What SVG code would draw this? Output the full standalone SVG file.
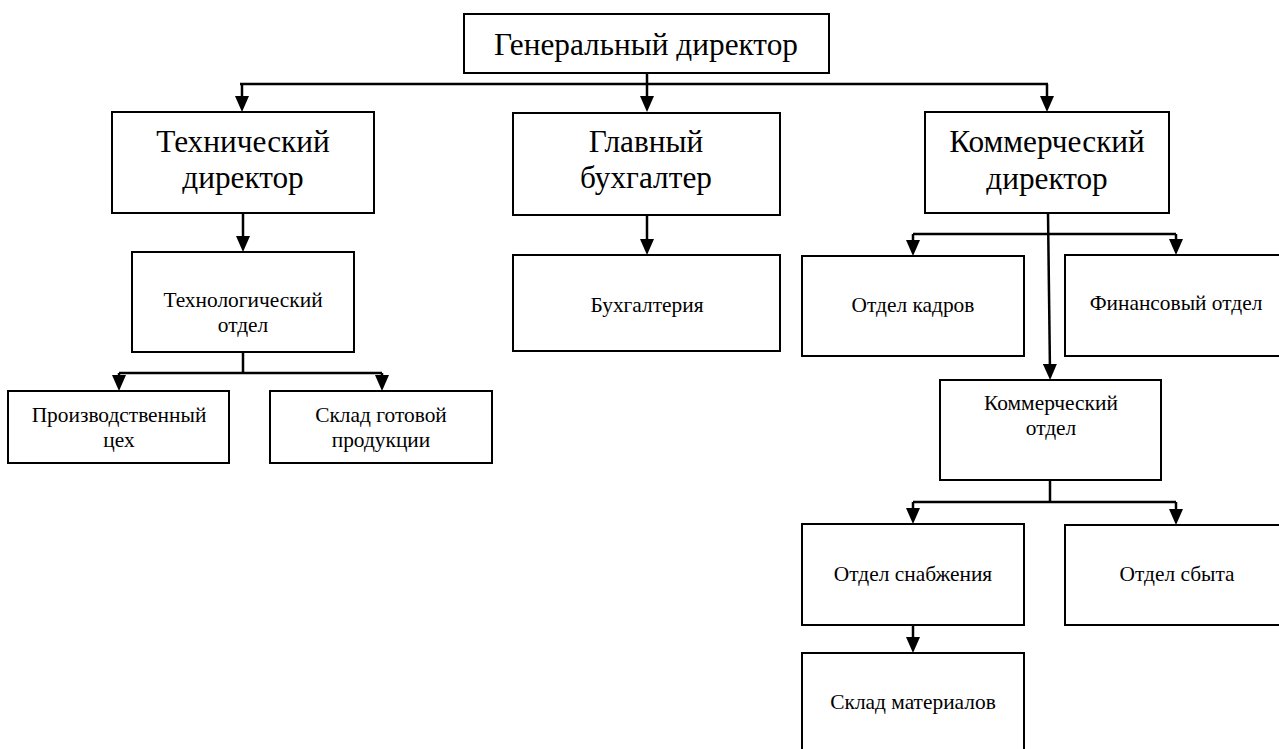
<svg xmlns="http://www.w3.org/2000/svg" width="1279" height="749" viewBox="0 0 1279 749">
  <style>
    .box { fill: #ffffff; stroke: #000000; stroke-width: 2; }
    .big { font-family: "Liberation Serif", "Times New Roman", serif; font-size: 31.3px; fill: #000000; text-anchor: middle; }
    .small { font-family: "Liberation Serif", "Times New Roman", serif; font-size: 21.4px; fill: #000000; text-anchor: middle; }
    .link { fill: none; stroke: #000000; stroke-width: 2.5; }
    .arrow { fill: none; stroke: #000000; stroke-width: 2.5; marker-end: url(#head); }
  </style>
  <defs>
    <marker id="head" markerUnits="userSpaceOnUse" viewBox="0 0 16 14" refX="8" refY="7" markerWidth="16" markerHeight="14" orient="auto">
      <path d="M0,0 L16,7 L0,14 Z" fill="#000000"/>
    </marker>
  </defs>
  <rect width="1279" height="749" fill="#ffffff"/>

  <!-- connectors -->
  <g id="connectors">
    <!-- general director to the three directors -->
    <path class="link" d="M240,84 H1048"/>
    <path class="arrow" d="M242,84 V104"/>
    <path class="arrow" d="M647,73 V104"/>
    <path class="arrow" d="M1047,84 V104"/>
    <!-- technical branch -->
    <path class="arrow" d="M243,213 V244"/>
    <path class="link" d="M243,352 V373"/>
    <path class="link" d="M119,373 H382"/>
    <path class="arrow" d="M119,373 V383"/>
    <path class="arrow" d="M382,373 V383"/>
    <!-- accounting -->
    <path class="arrow" d="M647,215 V247"/>
    <!-- commercial branch -->
    <path class="link" d="M913,234 H1176"/>
    <path class="arrow" d="M913,234 V248"/>
    <path class="arrow" d="M1176,234 V247"/>
    <path class="arrow" d="M1048,213 L1050,372"/>
    <path class="link" d="M1050,480 V502"/>
    <path class="link" d="M913,502 H1176"/>
    <path class="arrow" d="M913,502 V516"/>
    <path class="arrow" d="M1176,502 V517"/>
    <path class="arrow" d="M913,625 V645"/>
  </g>

  <g id="general-director">
    <rect class="box" x="464" y="14" width="365" height="59"/>
    <text class="big" x="646" y="55">Генеральный директор</text>
  </g>

  <g id="technical-director">
    <rect class="box" x="112" y="112" width="262" height="101"/>
    <text class="big" x="243" y="152">Технический</text>
    <text class="big" x="243" y="188">директор</text>
  </g>

  <g id="chief-accountant">
    <rect class="box" x="513" y="113" width="267" height="102"/>
    <text class="big" x="646" y="152">Главный</text>
    <text class="big" x="646" y="188">бухгалтер</text>
  </g>

  <g id="commercial-director">
    <rect class="box" x="925" y="112" width="244" height="101"/>
    <text class="big" x="1047" y="152">Коммерческий</text>
    <text class="big" x="1047" y="189">директор</text>
  </g>

  <g id="technology-dept">
    <rect class="box" x="132" y="252" width="222" height="100"/>
    <text class="small" x="243" y="307">Технологический</text>
    <text class="small" x="243" y="332">отдел</text>
  </g>

  <g id="production-shop">
    <rect class="box" x="8" y="391" width="221" height="72"/>
    <text class="small" x="119" y="422">Производственный</text>
    <text class="small" x="119" y="447">цех</text>
  </g>

  <g id="finished-goods-store">
    <rect class="box" x="270" y="391" width="222" height="72"/>
    <text class="small" x="381" y="422">Склад готовой</text>
    <text class="small" x="381" y="447">продукции</text>
  </g>

  <g id="accounting">
    <rect class="box" x="513" y="255" width="267" height="96"/>
    <text class="small" x="647" y="312">Бухгалтерия</text>
  </g>

  <g id="hr-dept">
    <rect class="box" x="802" y="256" width="222" height="100"/>
    <text class="small" x="913" y="312">Отдел кадров</text>
  </g>

  <g id="finance-dept">
    <rect class="box" x="1065" y="255" width="230" height="101"/>
    <text class="small" x="1176" y="310">Финансовый отдел</text>
  </g>

  <g id="commercial-dept">
    <rect class="box" x="940" y="380" width="221" height="100"/>
    <text class="small" x="1051" y="410">Коммерческий</text>
    <text class="small" x="1051" y="435">отдел</text>
  </g>

  <g id="supply-dept">
    <rect class="box" x="802" y="524" width="222" height="101"/>
    <text class="small" x="913" y="581">Отдел снабжения</text>
  </g>

  <g id="sales-dept">
    <rect class="box" x="1065" y="525" width="230" height="100"/>
    <text class="small" x="1177" y="581">Отдел сбыта</text>
  </g>

  <g id="materials-store">
    <rect class="box" x="802" y="653" width="222" height="110"/>
    <text class="small" x="913" y="709">Склад материалов</text>
  </g>
</svg>
